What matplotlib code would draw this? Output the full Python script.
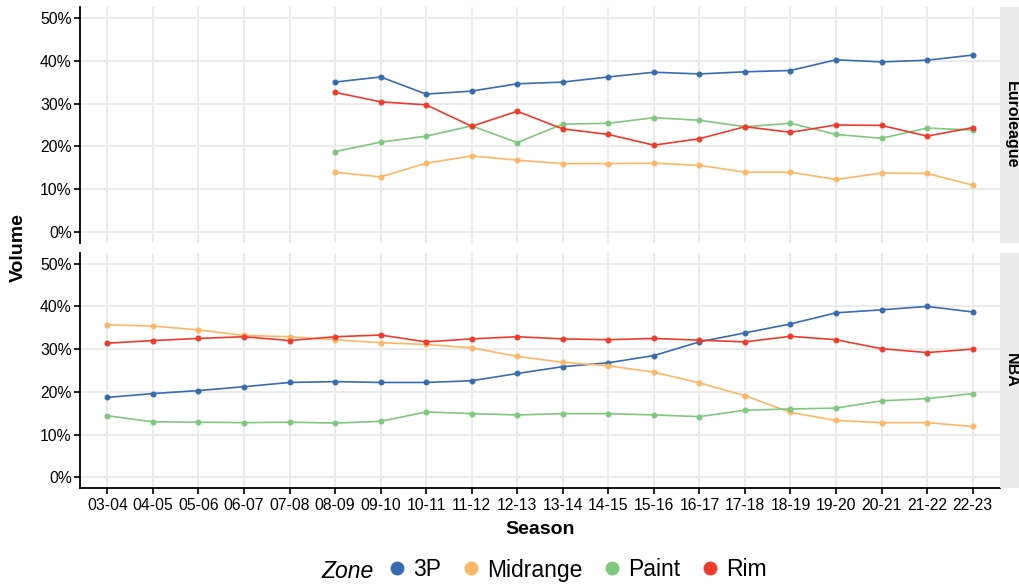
import numpy as np
import matplotlib
matplotlib.use('Agg')
from matplotlib import pyplot as plt
from matplotlib.lines import Line2D
from matplotlib.ticker import PercentFormatter

plt.rcParams['font.family'] = ['Liberation Sans', 'DejaVu Sans']

seasons = ['03-04', '04-05', '05-06', '06-07', '07-08', '08-09', '09-10', '10-11',
           '11-12', '12-13', '13-14', '14-15', '15-16', '16-17', '17-18', '18-19',
           '19-20', '20-21', '21-22', '22-23']
zones = ['3P', 'Midrange', 'Paint', 'Rim']
colors = {'3P': '#386CB0', 'Midrange': '#FDB766', 'Paint': '#7FC97F', 'Rim': '#EF3B2C'}

# Euroleague data starts at 08-09
euro_start = '08-09'
euro_3p = [35.0, 36.2, 32.2, 32.9, 34.6, 35.0, 36.2, 37.3, 36.9, 37.4, 37.7, 40.2, 39.7, 40.1, 41.3]
euro_mid = [14.0, 12.9, 16.1, 17.8, 16.8, 16.0, 16.0, 16.1, 15.6, 14.0, 14.0, 12.3, 13.8, 13.7, 11.0]
euro_paint = [18.8, 21.0, 22.4, 24.8, 20.9, 25.2, 25.4, 26.7, 26.1, 24.6, 25.4, 22.8, 21.9, 24.3, 23.8]
euro_rim = [32.6, 30.4, 29.7, 24.7, 28.2, 24.1, 22.8, 20.3, 21.8, 24.6, 23.3, 25.0, 24.9, 22.4, 24.4]

nba_3p = [18.7, 19.6, 20.3, 21.2, 22.2, 22.4, 22.2, 22.2, 22.6, 24.3, 25.9, 26.8, 28.5,
          31.7, 33.8, 35.9, 38.5, 39.2, 40.0, 38.7]
nba_mid = [35.7, 35.4, 34.5, 33.2, 32.9, 32.2, 31.5, 31.1, 30.3, 28.3, 26.9, 26.1, 24.6,
           22.1, 19.1, 15.2, 13.3, 12.8, 12.8, 11.9]
nba_paint = [14.4, 13.0, 12.9, 12.8, 12.9, 12.7, 13.1, 15.3, 14.9, 14.6, 14.9, 14.9, 14.6,
             14.2, 15.7, 16.0, 16.2, 17.9, 18.4, 19.6]
nba_rim = [31.4, 32.0, 32.5, 32.9, 32.0, 32.9, 33.3, 31.7, 32.4, 32.9, 32.4, 32.2, 32.5,
           32.1, 31.7, 33.0, 32.2, 30.1, 29.2, 30.0]

leagues = {
    'Euroleague': dict(zip(zones, [euro_3p, euro_mid, euro_paint, euro_rim])),
    'NBA': dict(zip(zones, [nba_3p, nba_mid, nba_paint, nba_rim])),
}

W, H = 1020, 586
fig = plt.figure(figsize=(W / 100, H / 100), dpi=100, facecolor='white')

left, right = 80, 1000
panels = {'Euroleague': (7, 243), 'NBA': (253, 488)}
x = np.arange(len(seasons))

for league, (top, bottom) in panels.items():
    ax = fig.add_axes([left / W, 1 - bottom / H, (right - left) / W, (bottom - top) / H])
    data = leagues[league]
    offset = seasons.index(euro_start) if league == 'Euroleague' else 0
    for z in zones:
        vals = np.array(data[z]) / 100
        xs = x[offset:offset + len(vals)]
        ax.plot(xs, vals, color=colors[z], lw=1.2, marker='o', ms=3.3, zorder=3)

    ax.set_xlim(-0.6, len(seasons) - 0.4)
    ax.set_ylim(-0.025, 0.525)
    ax.set_yticks(np.arange(0, 0.51, 0.1))
    ax.yaxis.set_major_formatter(PercentFormatter(1.0, decimals=0))
    ax.set_xticks(x)
    ax.grid(True, color='#EBEBEB', lw=1.4, zorder=0)
    ax.set_axisbelow(True)
    for s in ['top', 'right']:
        ax.spines[s].set_visible(False)
    ax.spines['left'].set_linewidth(1.3)
    ax.spines['bottom'].set_linewidth(1.3)
    ax.tick_params(axis='y', labelsize=11.3, length=4, width=1.2, pad=2, colors='black')
    if league == 'NBA':
        ax.set_xticklabels(seasons)
        ax.tick_params(axis='x', labelsize=11.3, length=4, width=1.2, pad=3)
    else:
        ax.spines['bottom'].set_visible(False)
        ax.tick_params(axis='x', length=0, labelbottom=False)

    # facet strip on the right
    sax = fig.add_axes([right / W, 1 - bottom / H, 20 / W, (bottom - top) / H])
    sax.set_facecolor('#EBEBEB')
    sax.set_xticks([])
    sax.set_yticks([])
    for s in sax.spines.values():
        s.set_visible(False)
    sax.text(0.55, 0.5, league, rotation=-90, ha='center', va='center',
             fontsize=11.5, fontweight='bold', transform=sax.transAxes)

fig.text(18 / W, 1 - 248 / H, 'Volume', rotation=90, ha='center', va='center',
         fontsize=14, fontweight='bold')
fig.text(540 / W, 1 - 530 / H, 'Season', ha='center', va='center',
         fontsize=14, fontweight='bold')

handles = [Line2D([], [], color=colors[z], marker='o', ls='', ms=9) for z in zones]
fig.text(348 / W, 1 - 571 / H, 'Zone', ha='center', va='center', fontsize=16.5, style='italic')
fig.legend(handles, zones, loc='center', bbox_to_anchor=(576 / W, 1 - 570 / H), ncol=4,
           frameon=False, fontsize=16.5, handletextpad=0.2, columnspacing=0.8,
           handlelength=1.0, borderpad=0)

fig.savefig('out.png', dpi=100, facecolor='white')
